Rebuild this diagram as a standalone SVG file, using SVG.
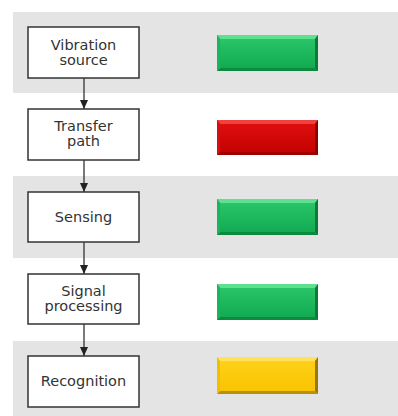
<svg xmlns="http://www.w3.org/2000/svg" width="398" height="416" viewBox="0 0 398 416">
<style>
.band{fill:#e4e4e4}
.box{fill:#fff;stroke:#333;stroke-width:1.5}
.lbl{font-family:"DejaVu Sans",Verdana,sans-serif;font-size:14.5px;fill:#333;text-anchor:middle}
.con{stroke:#333;stroke-width:1.3;fill:none;marker-end:url(#ah)}
</style>
<defs>
<marker id="ah" markerWidth="9" markerHeight="8" refX="9" refY="4" orient="auto" markerUnits="userSpaceOnUse" viewBox="0 0 9 8">
<path d="M0,0 L9,4 L0,8 Z" fill="#222"/>
</marker>
<linearGradient id="g" x1="0" y1="0" x2="0" y2="1"><stop offset="0" stop-color="#2cc86a"/><stop offset="1" stop-color="#0fa850"/></linearGradient>
<linearGradient id="r" x1="0" y1="0" x2="0" y2="1"><stop offset="0" stop-color="#e01010"/><stop offset="1" stop-color="#c40000"/></linearGradient>
<linearGradient id="y" x1="0" y1="0" x2="0" y2="1"><stop offset="0" stop-color="#ffd21a"/><stop offset="1" stop-color="#f8c200"/></linearGradient>
</defs>
<rect class="band" x="13" y="12" width="385" height="81"/>
<rect class="band" x="13" y="176" width="385" height="82"/>
<rect class="band" x="13" y="341" width="385" height="75"/>

<g id="connectors">
<line class="con" x1="84" y1="78" x2="84" y2="109"/>
<line class="con" x1="84" y1="160" x2="84" y2="192"/>
<line class="con" x1="84" y1="242" x2="84" y2="274"/>
<line class="con" x1="84" y1="324" x2="84" y2="356"/>
</g>

<g id="n1"><rect class="box" x="28" y="27" width="111" height="51"/><text class="lbl" x="83.5" y="50">Vibration</text><text class="lbl" x="83.5" y="65">source</text></g>
<g id="n2"><rect class="box" x="28" y="109" width="111" height="51"/><text class="lbl" x="83.5" y="131">Transfer</text><text class="lbl" x="83.5" y="146">path</text></g>
<g id="n3"><rect class="box" x="28" y="192" width="111" height="50"/><text class="lbl" x="83.5" y="222">Sensing</text></g>
<g id="n4"><rect class="box" x="28" y="274" width="111" height="50"/><text class="lbl" x="83.5" y="296">Signal</text><text class="lbl" x="83.5" y="311">processing</text></g>
<g id="n5"><rect class="box" x="28" y="356" width="111" height="51"/><text class="lbl" x="83.5" y="386">Recognition</text></g>

<g id="bar1">
<rect x="217" y="35" width="101" height="36" fill="url(#g)"/>
<polygon points="217,35 318,35 315,39 220,39" fill="#5ee08e"/>
<polygon points="318,35 318,71 315,68 315,39" fill="#0a7a38"/>
<polygon points="217,71 318,71 315,68 220,68" fill="#0b8a40"/>
<polygon points="217,35 220,39 220,68 217,71" fill="#1bb45a"/>
</g>
<g id="bar2">
<rect x="217" y="120" width="101" height="35" fill="url(#r)"/>
<polygon points="217,120 318,120 315,124 220,124" fill="#f04040"/>
<polygon points="318,120 318,155 315,152 315,124" fill="#880000"/>
<polygon points="217,155 318,155 315,152 220,152" fill="#a00000"/>
<polygon points="217,120 220,124 220,152 217,155" fill="#d41010"/>
</g>
<g id="bar3">
<rect x="217" y="199" width="101" height="36" fill="url(#g)"/>
<polygon points="217,199 318,199 315,203 220,203" fill="#5ee08e"/>
<polygon points="318,199 318,235 315,232 315,203" fill="#0a7a38"/>
<polygon points="217,235 318,235 315,232 220,232" fill="#0b8a40"/>
<polygon points="217,199 220,203 220,232 217,235" fill="#1bb45a"/>
</g>
<g id="bar4">
<rect x="217" y="284" width="101" height="36" fill="url(#g)"/>
<polygon points="217,284 318,284 315,288 220,288" fill="#5ee08e"/>
<polygon points="318,284 318,320 315,317 315,288" fill="#0a7a38"/>
<polygon points="217,320 318,320 315,317 220,317" fill="#0b8a40"/>
<polygon points="217,284 220,288 220,317 217,320" fill="#1bb45a"/>
</g>
<g id="bar5">
<rect x="217" y="357" width="101" height="37" fill="url(#y)"/>
<polygon points="217,357 318,357 315,361 220,361" fill="#ffe25a"/>
<polygon points="318,357 318,394 315,391 315,361" fill="#9a7800"/>
<polygon points="217,394 318,394 315,391 220,391" fill="#b89000"/>
<polygon points="217,357 220,361 220,391 217,394" fill="#f0c000"/>
</g>
</svg>
